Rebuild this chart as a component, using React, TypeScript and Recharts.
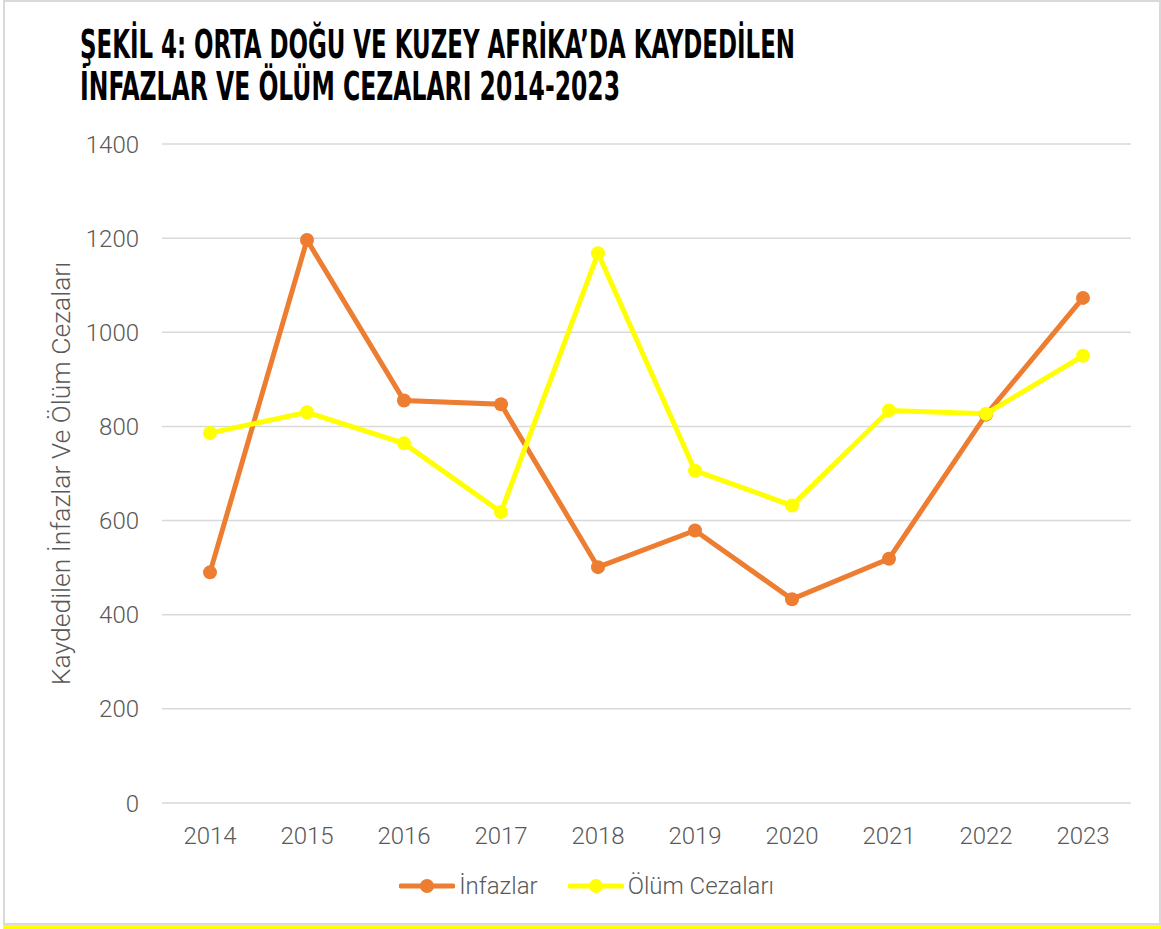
import React from 'react';
import { LineChart, Line, XAxis, YAxis, CartesianGrid, Legend, Label } from 'recharts';

const years = ['2014', '2015', '2016', '2017', '2018', '2019', '2020', '2021', '2022', '2023'];
const infazlar = [490, 1196, 855, 847, 501, 579, 433, 519, 825, 1073];
const olumCezalari = [786, 830, 764, 618, 1168, 706, 632, 834, 827, 950];
const yTicks = [0, 200, 400, 600, 800, 1000, 1200, 1400];
const seriesNames = ['İnfazlar', 'Ölüm Cezaları'];
const seriesColors = ['#ED7D31', '#FFFF00'];
const titleLines = ['ŞEKİL 4: ORTA DOĞU VE KUZEY AFRİKA’DA KAYDEDİLEN', 'İNFAZLAR VE ÖLÜM CEZALARI 2014-2023'];
const yAxisTitle = 'Kaydedilen İnfazlar Ve Ölüm Cezaları';

const data = years.map((y, i) => ({ year: y, infazlar: infazlar[i], olum: olumCezalari[i] }));

const FONT = 'Roboto, "Liberation Sans", sans-serif';
const TEXT_GRAY = '#595959';
const TITLE_FONT = '"Liberation Sans Narrow", "DejaVu Sans Condensed", sans-serif';
const TITLE_SCALE = 0.7;

const renderLegend = (props: any) => {
  const payload = [...(props.payload || [])].sort(
    (a: any, b: any) => seriesNames.indexOf(a.value) - seriesNames.indexOf(b.value)
  );
  return (
    <div style={{ display: 'flex', justifyContent: 'center', alignItems: 'center', height: 30, paddingLeft: 12, fontFamily: FONT }}>
      {payload.map((p: any, i: number) => (
        <div key={i} style={{ display: 'flex', alignItems: 'center', marginLeft: i === 0 ? 0 : 30 }}>
          <svg width={56} height={20} style={{ display: 'block' }}>
            <line x1={2} y1={10} x2={54} y2={10} stroke={p.color} strokeWidth={5} strokeLinecap="round" />
            <circle cx={28} cy={10} r={7} fill={p.color} />
          </svg>
          <span style={{ marginLeft: 4, fontSize: 24, fontWeight: 300, color: TEXT_GRAY, lineHeight: '30px' }}>{p.value}</span>
        </div>
      ))}
    </div>
  );
};

const YTitle = (props: any) => {
  const vb = props.viewBox || { x: 0, y: 0, width: 0, height: 0 };
  const cx = vb.x + 30;
  const cy = vb.y + vb.height / 2;
  return (
    <text
      x={cx}
      y={cy}
      transform={`rotate(-90 ${cx} ${cy})`}
      textAnchor="middle"
      dominantBaseline="central"
      fill={TEXT_GRAY}
      fontSize={26.5}
      fontWeight={300}
      fontFamily={FONT}
    >
      {yAxisTitle}
    </text>
  );
};

export default function App() {
  return (
    <div style={{ position: 'absolute', left: 0, top: 0, width: 1161, height: 929, background: '#fff', overflow: 'hidden' }}>
      <div style={{ position: 'absolute', left: 3, top: 0, width: 1158, height: 925, border: '2px solid #d9d9d9', boxSizing: 'border-box' }} />
      <div style={{ position: 'absolute', left: 3, top: 925, width: 1158, height: 4, background: '#FFFF00' }} />
      <svg style={{ position: 'absolute', left: 0, top: 0 }} width={1161} height={120}>
        <text transform={`translate(80 58) scale(${TITLE_SCALE} 1)`} x={0} y={0} fontSize={39} fontWeight="bold" fontFamily={TITLE_FONT} fill="#000" textLength={715 / TITLE_SCALE} lengthAdjust="spacingAndGlyphs">
          {titleLines[0]}
        </text>
        <text transform={`translate(80 100) scale(${TITLE_SCALE} 1)`} x={0} y={0} fontSize={39} fontWeight="bold" fontFamily={TITLE_FONT} fill="#000" textLength={540 / TITLE_SCALE} lengthAdjust="spacingAndGlyphs">
          {titleLines[1]}
        </text>
      </svg>
      <div style={{ position: 'absolute', left: 0, top: 0 }}>
        <LineChart width={1161} height={929} data={data} margin={{ top: 144, right: 30, bottom: 28, left: 30 }}>
          <CartesianGrid vertical={false} stroke="#d9d9d9" strokeWidth={1.5} />
          <XAxis
            dataKey="year"
            axisLine={false}
            tickLine={false}
            tickMargin={18}
            height={68}
            padding={{ left: 48, right: 48 }}
            tick={{ fill: TEXT_GRAY, fontSize: 24, fontWeight: 300, fontFamily: FONT }}
            interval={0}
          />
          <YAxis
            width={132}
            domain={[0, 1400]}
            ticks={yTicks}
            axisLine={false}
            tickLine={false}
            tickMargin={17}
            tick={{ fill: TEXT_GRAY, fontSize: 24, fontWeight: 300, fontFamily: FONT }}
            allowDataOverflow
          >
            <Label content={<YTitle />} />
          </YAxis>
          <Legend verticalAlign="bottom" content={renderLegend} />
          <Line
            type="linear"
            dataKey="infazlar"
            name={seriesNames[0]}
            stroke={seriesColors[0]}
            strokeWidth={5}
            dot={{ r: 7, fill: seriesColors[0], stroke: seriesColors[0], strokeWidth: 0 }}
            activeDot={false}
            isAnimationActive={false}
          />
          <Line
            type="linear"
            dataKey="olum"
            name={seriesNames[1]}
            stroke={seriesColors[1]}
            strokeWidth={5}
            dot={{ r: 7, fill: seriesColors[1], stroke: seriesColors[1], strokeWidth: 0 }}
            activeDot={false}
            isAnimationActive={false}
          />
        </LineChart>
      </div>
    </div>
  );
}
